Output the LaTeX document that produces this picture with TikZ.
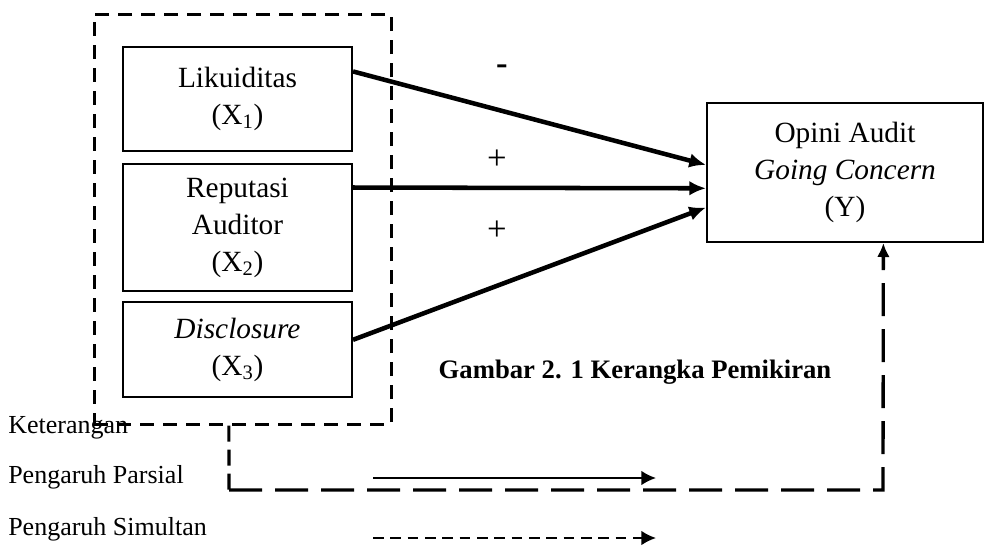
\documentclass[tikz,border=0pt]{standalone}
\usepackage{fontspec}
\setmainfont{Liberation Serif}
\usetikzlibrary{arrows.meta,calc}
\tikzset{
  varbox/.style={draw, line width=1.5pt, inner sep=0pt, align=center,
    font=\fontsize{22}{27.75}\selectfont},
  framebox/.style={draw, line width=2.25pt, dash pattern=on 10.5pt off 6.75pt, inner sep=0pt},
  thickarrow/.style={line width=3.4pt, -{Latex[length=12.5pt,width=11pt]}},
  signlabel/.style={inner sep=0pt, font=\fontsize{26}{30}\selectfont},
  legendtext/.style={anchor=base west, inner sep=0pt, font=\fontsize{19.5}{23}\selectfont},
  captiontext/.style={anchor=base, inner sep=0pt, font=\fontsize{20}{24}\selectfont\bfseries},
  shortdash/.style={line width=2.4pt, dash pattern=on 12pt off 6pt},
  longdash/.style={line width=2.5pt, dash pattern=on 24.75pt off 9.75pt},
  partialarrow/.style={line width=1.5pt, -{Latex[length=11pt,width=11pt]}},
  simularrow/.style={line width=1.5pt, dash pattern=on 8pt off 5pt, -{Latex[length=11pt,width=11pt]}},
}
\begin{document}
\begin{tikzpicture}[x=0.75pt,y=-0.75pt]
\useasboundingbox (0,0) rectangle (986,550);

% outer dashed frame
\node[framebox, minimum width={297*0.75pt}, minimum height={410*0.75pt}] (frame) at (242.5,219) {};

% variable boxes
\node[varbox, minimum width={229*0.75pt}, minimum height={104*0.75pt}] (lik) at (237.5,99)
  {Likuiditas\\(X\textsubscript{1})};
\node[varbox, minimum width={229*0.75pt}, minimum height={127*0.75pt}] (rep) at (237.5,227.5)
  {Reputasi\\Auditor\\(X\textsubscript{2})};
\node[varbox, minimum width={229*0.75pt}, minimum height={95*0.75pt}] (dis) at (237.5,349.5)
  {\textit{Disclosure}\\(X\textsubscript{3})};
\node[varbox, minimum width={276*0.75pt}, minimum height={139*0.75pt}] (y) at (845,172.5)
  {Opini Audit\\\textit{Going Concern}\\(Y)};

% arrows to Y
\draw[thickarrow] ($(lik.north east)!0.24!(lik.south east)$) -- ($(y.north west)!0.446!(y.south west)$);
\draw[thickarrow] ($(rep.north east)!0.19!(rep.south east)$) -- ($(y.north west)!0.612!(y.south west)$);
\draw[thickarrow] ($(dis.north east)!0.40!(dis.south east)$) -- ($(y.north west)!0.748!(y.south west)$);

% signs
\node[signlabel] (s1) at (502,70) {\textbf{-}};
\node[signlabel] (s2) at (497,160) {+};
\node[signlabel] (s3) at (497,231) {+};

% caption
\node[captiontext] (cap) at (635,378) {Gambar 2. 1 Kerangka Pemikiran};

% simultaneous connector
\coordinate (c0) at ($(frame.south west)!0.4545!(frame.south east)$);
\coordinate (c1) at (229,490);
\coordinate (c2) at (883,490);
\coordinate (yb) at ($(y.south west)!0.638!(y.south east)$);
\draw[shortdash] (c0) -- (c1);
\draw[longdash, -{Latex[length=10.5pt,width=9.5pt]}] (c1) -- (c2) -- (yb);

% legend
\node[legendtext] (ket) at (8,433) {Keterangan};
\node[legendtext] (par) at (8,483) {Pengaruh Parsial};
\node[legendtext] (sim) at (8,535) {Pengaruh Simultan};
\coordinate (pa) at (373,478);
\coordinate (pb) at (656,478);
\draw[partialarrow] (pa) -- (pb);
\coordinate (sa) at (373,538);
\coordinate (sb) at (656,538);
\draw[simularrow] (sa) -- (sb);
\end{tikzpicture}
\end{document}
